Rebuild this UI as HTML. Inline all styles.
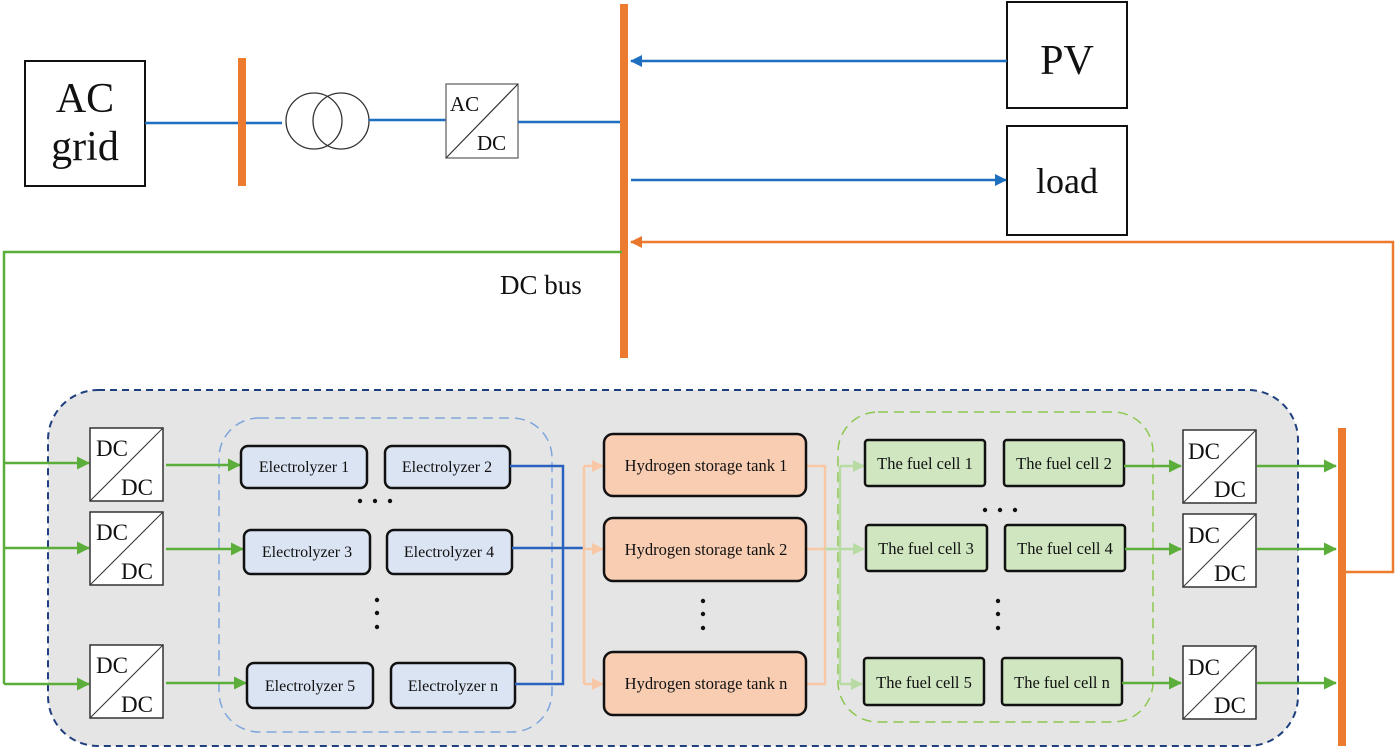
<!DOCTYPE html>
<html><head><meta charset="utf-8"><style>
html,body{margin:0;padding:0;background:#fff;}
svg{display:block;}
text{font-family:"Liberation Serif",serif;fill:#111;}
</style></head><body>
<svg width="1400" height="752" viewBox="0 0 1400 752" xmlns="http://www.w3.org/2000/svg">
<defs>
<marker id="ab" markerWidth="12" markerHeight="12" refX="11" refY="6" orient="auto" markerUnits="userSpaceOnUse"><path d="M0,0 L12,6 L0,12 Z" fill="#1f6fc0"/></marker>
<marker id="ao" markerWidth="12" markerHeight="12" refX="11" refY="6" orient="auto" markerUnits="userSpaceOnUse"><path d="M0,0 L12,6 L0,12 Z" fill="#e8762c"/></marker>
<marker id="ag" markerWidth="13" markerHeight="13" refX="12" refY="6.5" orient="auto" markerUnits="userSpaceOnUse"><path d="M0,0 L13,6.5 L0,13 Z" fill="#5cae3a"/></marker>
<marker id="alo" markerWidth="12" markerHeight="12" refX="11" refY="6" orient="auto" markerUnits="userSpaceOnUse"><path d="M0,0 L12,6 L0,12 Z" fill="#f8c7a6"/></marker>
<marker id="alg" markerWidth="12" markerHeight="12" refX="11" refY="6" orient="auto" markerUnits="userSpaceOnUse"><path d="M0,0 L12,6 L0,12 Z" fill="#b8dba4"/></marker>
</defs>

<rect x="25" y="61" width="120" height="125" fill="#fff" stroke="#111" stroke-width="2"/>
<text x="85" y="112" font-size="42" text-anchor="middle">AC</text>
<text x="85" y="160" font-size="42" text-anchor="middle">grid</text>
<line x1="145" y1="123" x2="282" y2="123" stroke="#1f6fc0" stroke-width="2.5"/>
<rect x="238" y="58" width="8" height="128" fill="#ec7a2f"/>
<circle cx="314" cy="121" r="28" fill="none" stroke="#333" stroke-width="1.3"/>
<circle cx="341" cy="121" r="28" fill="none" stroke="#333" stroke-width="1.3"/>
<line x1="369" y1="120" x2="446" y2="120" stroke="#1f6fc0" stroke-width="2.5"/>
<rect x="446" y="84" width="72" height="74" fill="#fff" stroke="#666" stroke-width="1.3"/>
<line x1="446" y1="158" x2="518" y2="84" stroke="#333" stroke-width="1.2"/>
<text x="450" y="111" font-size="21">AC</text>
<text x="477" y="150" font-size="21">DC</text>
<line x1="518" y1="122" x2="620" y2="122" stroke="#1f6fc0" stroke-width="2.5"/>
<rect x="620" y="4" width="8" height="354" fill="#ec7a2f"/>
<text x="500" y="294" font-size="27">DC bus</text>

<rect x="1007" y="2" width="120" height="106" fill="#fff" stroke="#111" stroke-width="2"/>
<text x="1067" y="74" font-size="42" text-anchor="middle">PV</text>
<rect x="1007" y="126" width="120" height="109" fill="#fff" stroke="#111" stroke-width="2"/>
<text x="1067" y="193" font-size="36" text-anchor="middle">load</text>
<line x1="1007" y1="61" x2="631" y2="61" stroke="#1f6fc0" stroke-width="2.5" marker-end="url(#ab)"/>
<line x1="631" y1="180" x2="1006" y2="180" stroke="#1f6fc0" stroke-width="2.5" marker-end="url(#ab)"/>
<polyline points="1344,572 1393,572 1393,242 631,242" fill="none" stroke="#ec7a2f" stroke-width="2.5" marker-end="url(#ao)"/>
<polyline points="622,252 4,252 4,684" fill="none" stroke="#5cae3a" stroke-width="2.5"/>

<rect x="48" y="390" width="1250" height="356" rx="50" fill="#e6e5e5" stroke="#1f3f7f" stroke-width="2" stroke-dasharray="7,5"/>
<rect x="219" y="418" width="333" height="314" rx="40" fill="none" stroke="#7ea6dc" stroke-width="1.5" stroke-dasharray="10,6"/>
<rect x="838" y="412" width="315" height="310" rx="40" fill="none" stroke="#8cc84f" stroke-width="1.5" stroke-dasharray="10,6"/>

<g stroke="#5cae3a" stroke-width="2.5" fill="none">
<line x1="4" y1="463" x2="89" y2="463" marker-end="url(#ag)"/>
<line x1="4" y1="548" x2="89" y2="548" marker-end="url(#ag)"/>
<line x1="4" y1="684" x2="89" y2="684" marker-end="url(#ag)"/>
<line x1="166" y1="465" x2="240" y2="465" marker-end="url(#ag)"/>
<line x1="166" y1="549" x2="243" y2="549" marker-end="url(#ag)"/>
<line x1="166" y1="683" x2="246" y2="683" marker-end="url(#ag)"/>
</g>
<g font-size="23">
<rect x="90" y="428" width="73" height="73" fill="#fff" stroke="#333" stroke-width="1.5"/>
<line x1="90" y1="501" x2="163" y2="428" stroke="#333"/>
<text x="96" y="456">DC</text><text x="121" y="495">DC</text>
<rect x="90" y="512" width="73" height="73" fill="#fff" stroke="#333" stroke-width="1.5"/>
<line x1="90" y1="585" x2="163" y2="512" stroke="#333"/>
<text x="96" y="540">DC</text><text x="121" y="579">DC</text>
<rect x="90" y="645" width="73" height="73" fill="#fff" stroke="#333" stroke-width="1.5"/>
<line x1="90" y1="718" x2="163" y2="645" stroke="#333"/>
<text x="96" y="673">DC</text><text x="121" y="712">DC</text>
</g>

<g fill="#dbe4f3" stroke="#111" stroke-width="2.5">
<rect x="241" y="446" width="126" height="42" rx="7"/>
<rect x="385" y="446" width="125" height="42" rx="7"/>
<rect x="244" y="530" width="126" height="44" rx="7"/>
<rect x="387" y="530" width="125" height="44" rx="7"/>
<rect x="247" y="663" width="126" height="45" rx="7"/>
<rect x="391" y="663" width="124" height="45" rx="7"/>
</g>
<g font-size="16" text-anchor="middle">
<text x="304" y="472">Electrolyzer 1</text>
<text x="447" y="472">Electrolyzer 2</text>
<text x="307" y="557">Electrolyzer 3</text>
<text x="449" y="557">Electrolyzer 4</text>
<text x="310" y="691">Electrolyzer 5</text>
<text x="453" y="691">Electrolyzer n</text>
</g>
<g fill="#111">
<circle cx="360" cy="501" r="2.2"/><circle cx="375" cy="501" r="2.2"/><circle cx="390" cy="501" r="2.2"/>
<circle cx="377" cy="600" r="2.2"/><circle cx="377" cy="613" r="2.2"/><circle cx="377" cy="627" r="2.2"/>
<circle cx="703" cy="601" r="2.2"/><circle cx="703" cy="614" r="2.2"/><circle cx="703" cy="628" r="2.2"/>
<circle cx="985" cy="510" r="2.2"/><circle cx="1000" cy="510" r="2.2"/><circle cx="1015" cy="510" r="2.2"/>
<circle cx="998" cy="601" r="2.2"/><circle cx="998" cy="614" r="2.2"/><circle cx="998" cy="628" r="2.2"/>
</g>
<polyline points="510,466 563,466 563,684 515,684" fill="none" stroke="#2a62c0" stroke-width="2.5"/>
<line x1="512" y1="548" x2="585" y2="548" stroke="#2a62c0" stroke-width="2.5"/>

<g stroke="#f8c7a6" stroke-width="2.5" fill="none">
<line x1="584" y1="466" x2="584" y2="684"/>
<line x1="584" y1="466" x2="603" y2="466" marker-end="url(#alo)"/>
<line x1="584" y1="549" x2="603" y2="549" marker-end="url(#alo)"/>
<line x1="584" y1="684" x2="603" y2="684" marker-end="url(#alo)"/>
<polyline points="806,466 825,466 825,684 806,684"/>
<line x1="806" y1="549" x2="825" y2="549"/>
</g>
<g stroke="#b8dba4" stroke-width="2.5" fill="none">
<line x1="840" y1="466" x2="840" y2="684"/>
<line x1="825" y1="549" x2="864" y2="549" marker-end="url(#alg)"/>
<line x1="840" y1="466" x2="864" y2="466" marker-end="url(#alg)"/>
<line x1="840" y1="684" x2="862" y2="684" marker-end="url(#alg)"/>
</g>
<g fill="#f8cdb2" stroke="#111" stroke-width="2.5">
<rect x="604" y="434" width="202" height="62" rx="9"/>
<rect x="604" y="518" width="202" height="63" rx="9"/>
<rect x="604" y="652" width="202" height="63" rx="9"/>
</g>
<g font-size="16.5" text-anchor="middle">
<text x="706" y="471">Hydrogen storage tank 1</text>
<text x="706" y="555">Hydrogen storage tank 2</text>
<text x="706" y="689">Hydrogen storage tank n</text>
</g>

<g fill="#cfe6c0" stroke="#111" stroke-width="2.5">
<rect x="865" y="440" width="120" height="46" rx="3"/>
<rect x="1004" y="440" width="120" height="46" rx="3"/>
<rect x="866" y="525" width="121" height="46" rx="3"/>
<rect x="1005" y="525" width="120" height="46" rx="3"/>
<rect x="864" y="658" width="120" height="47" rx="3"/>
<rect x="1002" y="658" width="120" height="47" rx="3"/>
</g>
<g font-size="16.5" text-anchor="middle">
<text x="925" y="469">The fuel cell 1</text>
<text x="1064" y="469">The fuel cell 2</text>
<text x="926" y="554">The fuel cell 3</text>
<text x="1065" y="554">The fuel cell 4</text>
<text x="924" y="688">The fuel cell 5</text>
<text x="1062" y="688">The fuel cell n</text>
</g>
<g stroke="#5cae3a" stroke-width="2.5" fill="none">
<line x1="1124" y1="466" x2="1181" y2="466" marker-end="url(#ag)"/>
<line x1="1125" y1="549" x2="1181" y2="549" marker-end="url(#ag)"/>
<line x1="1122" y1="683" x2="1181" y2="683" marker-end="url(#ag)"/>
<line x1="1257" y1="466" x2="1336" y2="466" marker-end="url(#ag)"/>
<line x1="1257" y1="549" x2="1336" y2="549" marker-end="url(#ag)"/>
<line x1="1257" y1="683" x2="1336" y2="683" marker-end="url(#ag)"/>
</g>
<g font-size="23">
<rect x="1183" y="430" width="73" height="73" fill="#fff" stroke="#333" stroke-width="1.5"/>
<line x1="1183" y1="503" x2="1256" y2="430" stroke="#333"/>
<text x="1188" y="459">DC</text><text x="1214" y="497">DC</text>
<rect x="1183" y="514" width="73" height="73" fill="#fff" stroke="#333" stroke-width="1.5"/>
<line x1="1183" y1="587" x2="1256" y2="514" stroke="#333"/>
<text x="1188" y="543">DC</text><text x="1214" y="581">DC</text>
<rect x="1183" y="646" width="73" height="73" fill="#fff" stroke="#333" stroke-width="1.5"/>
<line x1="1183" y1="719" x2="1256" y2="646" stroke="#333"/>
<text x="1188" y="675">DC</text><text x="1214" y="713">DC</text>
</g>
<rect x="1338" y="428" width="8" height="318" fill="#ec7a2f"/>
</svg>
</body></html>
